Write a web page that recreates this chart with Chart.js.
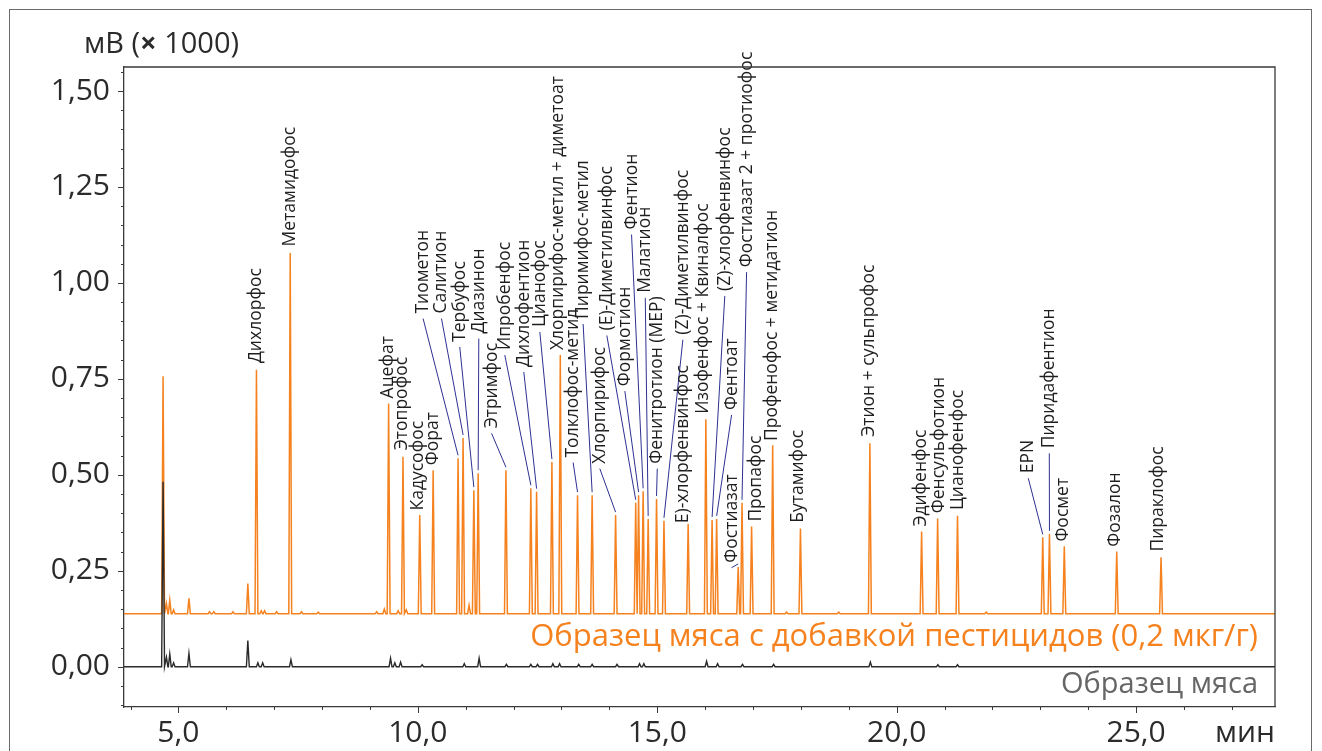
<!DOCTYPE html>
<html lang="ru">
<head>
<meta charset="utf-8">
<title>Хроматограмма</title>
<script src="https://cdn.jsdelivr.net/npm/chart.js@4.4.0/dist/chart.umd.min.js"></script>
<style>
  html, body { margin: 0; padding: 0; background: #fff; }
  #wrap { width: 1322px; height: 751px; position: relative; }
</style>
</head>
<body>
<div id="wrap"><canvas id="myChart"></canvas></div>
<script>
// ---- Данные: время удерживания (мин), сигнал (мВ x 1000) ----

// базовая линия образца с добавкой (сдвинута вверх)
const orangeBase = 0.138;

// именованные пики образца с добавкой пестицидов
const peakNames = [
  'Дихлорфос', 'Метамидофос', 'Ацефат', 'Этопрофос', 'Кадусофос', 'Форат',
  'Тиометон', 'Салитион', 'Тербуфос', 'Диазинон', 'Этримфос', 'Ипробенфос',
  'Дихлофентион', 'Цианофос', 'Хлорпирифос-метил + диметоат', 'Толклофос-метил',
  'Пиримифос-метил', 'Хлорпирифос', '(E)-Диметилвинфос', 'Формотион', 'Фентион',
  'Малатион', 'Фенитротион (MEP)', '(Z)-Диметилвинфос', 'E)-хлорфенвинфос',
  'Изофенфос + Квиналфос', '(Z)-хлорфенвинфос', 'Фентоат', 'Фостиазат',
  'Фостиазат 2 + протиофос', 'Пропафос', 'Профенофос + метидатион', 'Бутамифос',
  'Этион + сульпрофос', 'Эдифенфос', 'Фенсульфотион', 'Цианофенфос', 'EPN',
  'Пиридафентион', 'Фосмет', 'Фозалон', 'Пираклофос'
];
const peakTimes = [
  6.63, 7.335, 9.39, 9.69, 10.04, 10.32,
  10.84, 10.945, 11.17, 11.26, 11.84, 12.36,
  12.48, 12.80, 12.975, 13.335,
  13.64, 14.13, 14.55, 14.61, 14.705,
  14.81, 14.985, 15.14, 15.645,
  16.015, 16.145, 16.24, 16.69,
  16.77, 16.97, 17.41, 17.99,
  19.44, 20.52, 20.855, 21.27, 23.05,
  23.19, 23.50, 24.595, 25.52
];
const peakHeights = [
  0.774, 1.078, 0.686, 0.547, 0.395, 0.512,
  0.543, 0.596, 0.460, 0.504, 0.512, 0.465,
  0.456, 0.533, 0.812, 0.447,
  0.447, 0.395, 0.427, 0.447, 0.457,
  0.385, 0.437, 0.380, 0.372,
  0.645, 0.382, 0.385, 0.260,
  0.427, 0.365, 0.577, 0.360,
  0.582, 0.352, 0.386, 0.393, 0.337,
  0.346, 0.314, 0.300, 0.285
];

// мелкие пики образца с добавкой (без подписей)
const minorTimes = [4.68, 4.75, 4.82, 4.90, 5.22, 5.65, 5.74, 6.14, 6.45, 6.73, 6.80,
  7.05, 7.57, 7.92, 9.14, 9.30, 9.59, 9.76, 11.07, 17.70, 18.79, 21.87];
const minorHeights = [0.757, 0.165, 0.174, 0.148, 0.178, 0.143, 0.143, 0.143, 0.217, 0.146, 0.146,
  0.143, 0.143, 0.142, 0.143, 0.150, 0.146, 0.148, 0.160, 0.142, 0.142, 0.142];

// образец мяса (без добавки)
const blankTimes = [4.68, 4.75, 4.82, 4.90, 5.22, 6.45, 6.66, 6.76, 7.35, 9.43, 9.52, 9.64,
  10.09, 10.97, 11.28, 11.85, 12.36, 12.50, 12.82, 12.96, 13.36, 13.64, 14.16, 14.63,
  14.72, 16.03, 16.26, 16.78, 17.43, 19.45, 20.86, 21.27];
const blankHeights = [0.482, 0.025, 0.033, 0.010, 0.035, 0.068, 0.010, 0.010, 0.018, 0.022, 0.010, 0.012,
  0.005, 0.008, 0.022, 0.006, 0.006, 0.006, 0.008, 0.008, 0.006, 0.006, 0.006, 0.008,
  0.008, 0.014, 0.008, 0.006, 0.006, 0.012, 0.005, 0.005];

// деления осей
const xMajorTicks = [5, 10, 15, 20, 25];
const yMajorTicks = [0, 0.25, 0.5, 0.75, 1.0, 1.25, 1.5];

// ---- размещение подписей пиков (в координатах графика) ----
const labelX = [
  6.63, 7.33, 9.378, 9.68, 10.005, 10.32,
  10.11, 10.494, 10.876, 11.273, 11.54, 11.816,
  12.213, 12.548, 12.92, 13.243,
  13.452, 13.80, 13.947, 14.323, 14.463,
  14.75, 15.0, 15.535, 15.54,
  15.96, 16.41, 16.552, 16.552,
  16.865, 17.06, 17.39, 17.94,
  19.427, 20.50, 20.889, 21.286, 22.748,
  23.187, 23.48, 24.56, 25.46
];
const labelY = [
  0.791, 1.095, 0.699, 0.564, 0.407, 0.525,
  0.920, 0.920, 0.846, 0.868, 0.621, 0.825,
  0.781, 0.885, 0.825, 0.545,
  0.906, 0.529, 0.876, 0.731, 1.139,
  0.974, 0.529, 0.865, 0.374,
  0.659, 0.979, 0.669, 0.271,
  1.041, 0.378, 0.588, 0.375,
  0.599, 0.365, 0.400, 0.408, 0.504,
  0.569, 0.326, 0.3125, 0.300
];
const labelLeader = [
  0, 0, 0, 0, 0, 0,
  1, 1, 1, 1, 1, 1,
  1, 1, 0, 1,
  1, 1, 1, 1, 1,
  1, 1, 1, 0,
  0, 1, 1, 1,
  1, 0, 0, 0,
  0, 0, 0, 0, 1,
  1, 0, 0, 0
];

const xMin = 3.864, xMax = 27.9;
const yMin = -0.105, yMax = 1.5625;

const orange = '#f5821f';
const axisColor = '#3a3a3a';
const fontFamily = '"Open Sans", "Noto Sans", sans-serif';
const peakHalfWidth = 0.03;

// точки хроматограммы: каждый пик - вершина между двумя точками базовой линии
function buildTrace(times, heights, base) {
  const pts = [{ x: xMin, y: base }, { x: xMax, y: base }];
  times.forEach((t, i) => {
    pts.push({ x: t - peakHalfWidth, y: base });
    pts.push({ x: t, y: heights[i] });
    pts.push({ x: t + peakHalfWidth, y: base });
  });
  return pts.sort((a, b) => a.x - b.x);
}

const orangePoints = buildTrace(peakTimes.concat(minorTimes), peakHeights.concat(minorHeights), orangeBase);
const blankPoints = buildTrace(blankTimes, blankHeights, 0);

const fmt = (v, d) => Number(v).toFixed(d).replace('.', ',');

const decor = {
  id: 'decor',
  beforeDraw(chart) {
    const ctx = chart.ctx;
    ctx.save();
    ctx.fillStyle = '#fff';
    ctx.fillRect(0, 0, chart.width, chart.height);
    ctx.strokeStyle = '#6a6a6a';
    ctx.lineWidth = 1;
    ctx.strokeRect(9.5, 9.5, 1302, 800);
    ctx.restore();
  },
  afterDatasetsDraw(chart) {
    const ctx = chart.ctx;
    const xs = chart.scales.x, ys = chart.scales.y;
    ctx.save();
    ctx.font = '17.5px ' + fontFamily;
    ctx.fillStyle = '#1e1e1e';
    ctx.textAlign = 'left';
    ctx.textBaseline = 'middle';
    peakNames.forEach((name, i) => {
      const lx = xs.getPixelForValue(labelX[i]);
      const ly = ys.getPixelForValue(labelY[i]);
      if (labelLeader[i]) {
        ctx.strokeStyle = '#2e3192';
        ctx.lineWidth = 1;
        ctx.beginPath();
        ctx.moveTo(lx, ly + 5);
        ctx.lineTo(xs.getPixelForValue(peakTimes[i]), ys.getPixelForValue(peakHeights[i]) - 3);
        ctx.stroke();
      }
      ctx.save();
      ctx.translate(lx, ly);
      ctx.rotate(-Math.PI / 2);
      ctx.fillText(name, 0, 0);
      ctx.restore();
    });
    ctx.restore();
  },
  afterDraw(chart) {
    const ctx = chart.ctx;
    const a = chart.chartArea;
    const xs = chart.scales.x, ys = chart.scales.y;
    ctx.save();
    ctx.strokeStyle = axisColor;
    ctx.lineWidth = 1.3;
    ctx.beginPath();
    ctx.moveTo(a.left, a.top);
    ctx.lineTo(a.right, a.top);
    ctx.lineTo(a.right, a.bottom);
    ctx.stroke();

    // деления по оси Y: крупные 0,25, мелкие 0,05
    ctx.lineWidth = 1;
    for (let k = Math.ceil(yMin / 0.05); k * 0.05 <= yMax + 1e-9; k++) {
      const major = k % 5 === 0;
      const py = Math.round(ys.getPixelForValue(k * 0.05)) + 0.5;
      ctx.beginPath();
      ctx.moveTo(a.left, py);
      ctx.lineTo(a.left - (major ? 6 : 3), py);
      ctx.stroke();
    }
    // деления по оси X: крупные 5 мин, мелкие 1 мин
    for (let t = Math.ceil(xMin); t <= xMax; t++) {
      const major = t % 5 === 0;
      const px = Math.round(xs.getPixelForValue(t)) + 0.5;
      ctx.beginPath();
      ctx.moveTo(px, a.bottom);
      ctx.lineTo(px, a.bottom + (major ? 6 : 3));
      ctx.stroke();
    }

    // подписи осей
    ctx.fillStyle = '#2b2b2b';
    ctx.textBaseline = 'middle';
    ctx.textAlign = 'left';
    const parts = [['мВ (', '29px '], ['×', 'bold 29px '], [' 1000)', '29px ']];
    let tx = 84;
    parts.forEach(([s, f]) => {
      ctx.font = f + fontFamily;
      ctx.fillText(s, tx, 45);
      tx += ctx.measureText(s).width;
    });
    ctx.textAlign = 'center';
    ctx.font = '30px ' + fontFamily;
    ctx.fillText('мин', 1245, 733);

    // названия кривых
    ctx.textAlign = 'right';
    ctx.font = '31px ' + fontFamily;
    ctx.fillStyle = orange;
    ctx.fillText('Образец мяса с добавкой пестицидов (0,2 мкг/г)', 1258, 637);
    ctx.font = '29px ' + fontFamily;
    ctx.fillStyle = '#666';
    ctx.fillText('Образец мяса', 1258, 685);
    ctx.restore();
  }
};

const ctx = document.getElementById('myChart').getContext('2d');
const myChart = new Chart(ctx, {
  type: 'line',
  data: {
    datasets: [
      {
        label: 'Образец мяса',
        data: blankPoints,
        borderColor: '#2a2a2a',
        borderWidth: 1.4,
        pointRadius: 0,
        tension: 0,
        order: 0
      },
      {
        label: 'Образец мяса с добавкой пестицидов (0,2 мкг/г)',
        data: orangePoints,
        borderColor: orange,
        borderWidth: 1.5,
        pointRadius: 0,
        tension: 0,
        order: 1
      }
    ]
  },
  options: {
    responsive: true,
    maintainAspectRatio: false,
    animation: false,
    events: [],
    layout: { padding: { top: 67, right: 47, left: 0, bottom: 0 } },
    plugins: { legend: { display: false }, tooltip: { enabled: false } },
    scales: {
      x: {
        type: 'linear',
        min: xMin,
        max: xMax,
        grid: { display: false, drawTicks: false },
        border: { display: true, color: axisColor, width: 1.3 },
        afterBuildTicks: s => { s.ticks = xMajorTicks.map(v => ({ value: v })); },
        afterFit: s => { s.height = 44; },
        ticks: {
          autoSkip: false, maxRotation: 0, padding: 8,
          color: '#2b2b2b', font: { family: fontFamily, size: 30 },
          callback: v => fmt(v, 1)
        }
      },
      y: {
        type: 'linear',
        min: yMin,
        max: yMax,
        grid: { display: false, drawTicks: false },
        border: { display: true, color: axisColor, width: 1.3 },
        afterBuildTicks: s => { s.ticks = yMajorTicks.map(v => ({ value: v })); },
        afterFit: s => { s.width = 124; },
        ticks: {
          autoSkip: false, padding: 14,
          color: '#2b2b2b', font: { family: fontFamily, size: 30 },
          callback: v => fmt(v, 2)
        }
      }
    }
  },
  plugins: [decor]
});
</script>
</body>
</html>
